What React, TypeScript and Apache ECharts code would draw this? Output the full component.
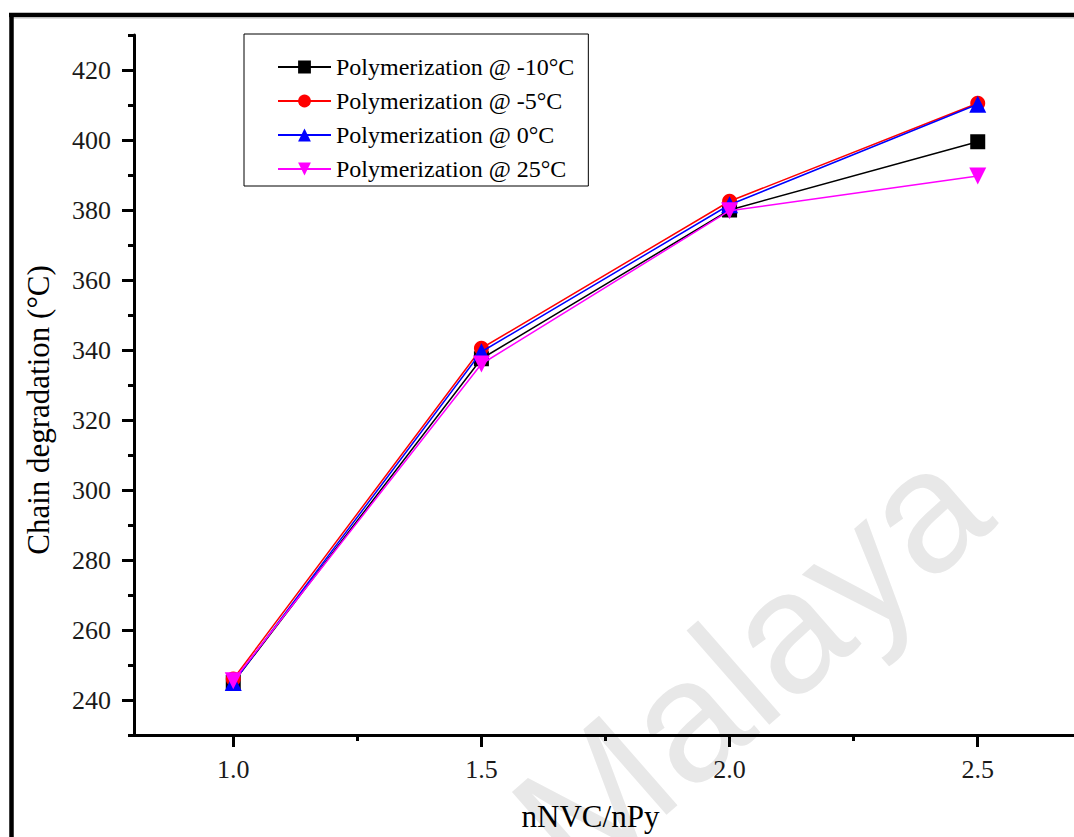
import React, { useEffect, useRef } from "react";
import * as echarts from "echarts";

const xValues = [1.0, 1.5, 2.0, 2.5];
const seriesNames = [
  "Polymerization @ -10°C",
  "Polymerization @ -5°C",
  "Polymerization @ 0°C",
  "Polymerization @ 25°C",
];
const minus10 = [245, 337.5, 380, 399.5];
const minus5 = [246, 340.5, 382.5, 410.5];
const zeroC = [245, 339.5, 381.5, 410.2];
const plus25 = [245.5, 336, 379.8, 389.7];

const yMajorTicks = [240, 260, 280, 300, 320, 340, 360, 380, 400, 420];
const yMinorTicks = [230, 250, 270, 290, 310, 330, 350, 370, 390, 410, 430];
const xMajorTicks = [1.0, 1.5, 2.0, 2.5];
const xMinorTicks = [1.25, 1.75, 2.25];

const seriesColors = ["#000000", "#ff0000", "#0000ff", "#ff00ff"];
const seriesSymbols = ["rect", "circle", "triangle", "triangle"];
const seriesSymbolSizes = [15, 15, 17, 17];
const seriesRotations = [0, 0, 0, 180];

const FONT = "Liberation Serif";

export default function App() {
  const ref = useRef<HTMLDivElement>(null);
  useEffect(() => {
    if (!ref.current) return;
    const chart = echarts.init(ref.current, null, { renderer: "svg" });
    const allValues = [minus10, minus5, zeroC, plus25];
    const axisLine = { show: true, lineStyle: { color: "#000", width: 3 } };
    chart.setOption({
      animation: false,
      backgroundColor: "#ffffff",
      grid: { left: 134, right: 3, top: 35, bottom: 101, containLabel: false },
      legend: {
        left: 244,
        top: 34,
        orient: "vertical",
        itemWidth: 53,
        itemHeight: 16,
        itemGap: 10,
        padding: [21, 14, 5, 33],
        borderColor: "#000",
        borderWidth: 1,
        textStyle: { fontFamily: FONT, fontSize: 24, color: "#000" },
        data: seriesNames,
      },
      xAxis: [
        {
          type: "value",
          min: 0.8,
          max: 2.7,
          position: "bottom",
          axisLine,
          splitLine: { show: false },
          axisTick: {
            show: true,
            customValues: xMajorTicks,
            length: 12,
            lineStyle: { color: "#000", width: 3 },
          },
          axisLabel: {
            customValues: xMajorTicks,
            formatter: (v: number) => v.toFixed(1),
            margin: 21,
            fontFamily: FONT,
            fontSize: 26,
            color: "#1a1a1a",
          },
          name: "nNVC/nPy",
          nameLocation: "middle",
          nameGap: 66,
          nameTextStyle: {
            fontFamily: FONT,
            fontSize: 31,
            color: "#000",
            padding: [0, 30, 0, 0],
          },
        },
        {
          type: "value",
          min: 0.8,
          max: 2.7,
          position: "bottom",
          axisLine: { show: false },
          splitLine: { show: false },
          axisTick: {
            show: true,
            customValues: xMinorTicks,
            length: 6,
            lineStyle: { color: "#000", width: 3 },
          },
          axisLabel: { show: false },
        },
      ],
      yAxis: [
        {
          type: "value",
          min: 230,
          max: 430,
          position: "left",
          axisLine,
          splitLine: { show: false },
          axisTick: {
            show: true,
            customValues: yMajorTicks,
            length: 12,
            lineStyle: { color: "#000", width: 3 },
          },
          axisLabel: {
            customValues: yMajorTicks,
            margin: 23,
            fontFamily: FONT,
            fontSize: 26,
            color: "#1a1a1a",
          },
          name: "Chain degradation (°C)",
          nameLocation: "middle",
          nameGap: 80,
          nameTextStyle: {
            fontFamily: FONT,
            fontSize: 31,
            color: "#000",
            padding: [0, 50, 0, 0],
          },
        },
        {
          type: "value",
          min: 230,
          max: 430,
          position: "left",
          axisLine: { show: false },
          splitLine: { show: false },
          axisTick: {
            show: true,
            customValues: yMinorTicks,
            length: 6,
            lineStyle: { color: "#000", width: 3 },
          },
          axisLabel: { show: false },
        },
      ],
      graphic: [
        {
          type: "text",
          x: 750,
          y: 662,
          rotation: 0.72,
          z: -10,
          silent: true,
          style: {
            text: "Malaya",
            fontFamily: "Liberation Sans",
            fontSize: 173,
            fill: "#e8e8e8",
            align: "center",
            verticalAlign: "middle",
          },
        },
        {
          type: "line",
          shape: { x1: 9, y1: 15, x2: 1080, y2: 15 },
          style: { stroke: "#000", lineWidth: 4.5 },
        },
        {
          type: "line",
          shape: { x1: 9, y1: 18, x2: 1080, y2: 18 },
          style: { stroke: "#bbbbbb", lineWidth: 1 },
        },
        {
          type: "line",
          shape: { x1: 11.5, y1: 13, x2: 11.5, y2: 837 },
          style: { stroke: "#000", lineWidth: 4.5 },
        },
      ],
      series: seriesNames.map((name, i) => ({
        name,
        type: "line",
        xAxisIndex: 0,
        yAxisIndex: 0,
        data: xValues.map((x, j) => [x, allValues[i][j]]),
        symbol: seriesSymbols[i],
        symbolSize: seriesSymbolSizes[i],
        symbolRotate: seriesRotations[i],
        showAllSymbol: true,
        lineStyle: { color: seriesColors[i], width: 1.5 },
        itemStyle: { color: seriesColors[i], opacity: 1 },
        z: 2 + i,
      })),
    });
    return () => chart.dispose();
  }, []);
  return (
    <div
      style={{
        position: "fixed",
        left: 0,
        top: 0,
        width: 1074,
        height: 837,
        overflow: "hidden",
        background: "#fff",
      }}
    >
      <div ref={ref} style={{ width: 1080, height: 837 }} />
    </div>
  );
}
